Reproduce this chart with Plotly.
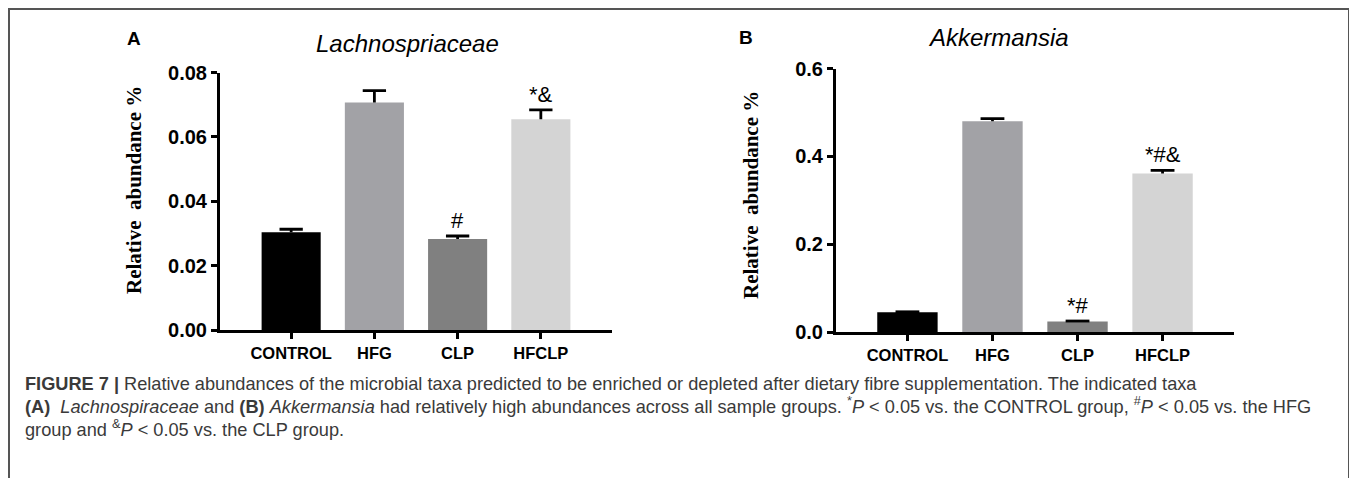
import plotly.graph_objects as go

W, H = 1357, 478
OFF = 8  # page body margin offset

categories = ["CONTROL", "HFG", "CLP", "HFCLP"]
bar_colors = ["#000000", "#a2a2a6", "#808080", "#d4d4d4"]

lach_values = [0.0304, 0.0707, 0.0283, 0.0655]
lach_errors = [0.0009, 0.0037, 0.0009, 0.0029]
lach_sig = ["", "", "#", "*&amp;"]

akk_values = [0.045, 0.480, 0.024, 0.361]
akk_errors = [0.001, 0.006, 0.001, 0.007]
akk_sig = ["", "", "*#", "*#&amp;"]

lach_ticks = [0.00, 0.02, 0.04, 0.06, 0.08]
lach_ticktext = ["0.00", "0.02", "0.04", "0.06", "0.08"]
akk_ticks = [0.0, 0.2, 0.4, 0.6]
akk_ticktext = ["0.0", "0.2", "0.4", "0.6"]

xpos = list(range(len(categories)))
CAP = 0.14  # half-width of error-bar caps, in category units


def px(x):
    return (x - OFF) / W


def py(y):
    return 1 - (y - OFF) / H


fig = go.Figure()

for vals, errs, xa, ya in [(lach_values, lach_errors, "x", "y"), (akk_values, akk_errors, "x2", "y2")]:
    fig.add_trace(go.Bar(
        x=xpos, y=vals, xaxis=xa, yaxis=ya,
        marker=dict(color=bar_colors, line=dict(width=0)),
        width=0.71, showlegend=False, hoverinfo="skip",
    ))
    ex, ey = [], []
    for i, v, e in zip(xpos, vals, errs):
        ex += [i, i, None, i - CAP, i + CAP, None]
        ey += [v, v + e, None, v + e, v + e, None]
    fig.add_trace(go.Scatter(
        x=ex, y=ey, xaxis=xa, yaxis=ya, mode="lines",
        line=dict(color="black", width=2.8), showlegend=False, hoverinfo="skip",
    ))

ytickfont = dict(family="Liberation Sans", size=20, color="black")
xtickfont = dict(family="Liberation Sans", size=16.5, color="black")
axis_common = dict(showline=True, linewidth=3, linecolor="black", ticks="outside",
                   ticklen=6, tickwidth=2.5, tickcolor="black", showgrid=False,
                   zeroline=False, automargin=False, fixedrange=True)
xcommon = dict(tickvals=xpos, ticktext=["<b>%s</b>" % c for c in categories],
               tickfont=xtickfont, **axis_common)

fig.update_layout(
    width=W, height=H,
    autosize=False,
    margin=dict(l=0, r=0, t=0, b=0, pad=0, autoexpand=False),
    paper_bgcolor="white", plot_bgcolor="white",
    xaxis=dict(domain=[px(220), px(612)], anchor="y", range=[-0.855, 3.855], **xcommon),
    yaxis=dict(domain=[py(330), py(72.5)], anchor="x", range=[0, 0.08],
               tickvals=lach_ticks, ticktext=["<b>%s</b>" % t for t in lach_ticktext],
               tickfont=ytickfont, **axis_common),
    xaxis2=dict(domain=[px(836), px(1234)], anchor="y2", range=[-0.84, 3.84], **xcommon),
    yaxis2=dict(domain=[py(332), py(68.5)], anchor="x2", range=[0, 0.6],
                tickvals=akk_ticks, ticktext=["<b>%s</b>" % t for t in akk_ticktext],
                tickfont=ytickfont, **axis_common),
)

ann = []
# significance labels
for vals, errs, sig, xr, yr in [(lach_values, lach_errors, lach_sig, "x", "y"),
                                (akk_values, akk_errors, akk_sig, "x2", "y2")]:
    for i, v, e, s in zip(xpos, vals, errs, sig):
        if s:
            ann.append(dict(x=i, y=v + e, xref=xr, yref=yr, text=s, showarrow=False,
                            xanchor="center", yanchor="bottom", yshift=1,
                            font=dict(family="Liberation Sans", size=22, color="black")))


def label(x, y, text, font, **kw):
    d = dict(x=px(x), y=py(y), xref="paper", yref="paper", text=text, showarrow=False,
             xanchor="center", yanchor="middle", font=font)
    d.update(kw)
    ann.append(d)


# panel titles
label(407, 43, "<i>Lachnospriaceae</i>", dict(family="Liberation Sans", size=24, color="black"))
label(998, 37, "<i>Akkermansia</i>", dict(family="Liberation Sans", size=24, color="black"))
label(134, 38, "<b>A</b>", dict(family="Liberation Sans", size=19, color="black"))
label(746, 37, "<b>B</b>", dict(family="Liberation Sans", size=19, color="black"))
# y axis titles
for xc, yc in [(134, 190), (751, 195)]:
    label(xc, yc, "<b>Relative  abundance %</b>",
          dict(family="Liberation Serif", size=21, color="black"), textangle=-90)

# caption
cap_font = dict(family="Liberation Sans", size=18.2, color="#3a3a3a")
cap_lines = [
    "<b>FIGURE 7 |</b> Relative abundances of the microbial taxa predicted to be enriched or depleted after dietary fibre supplementation. The indicated taxa",
    "<b>(A)</b>  <i>Lachnospiraceae</i> and <b>(B)</b> <i>Akkermansia</i> had relatively high abundances across all sample groups. <sup>*</sup><i>P</i> &lt; 0.05 vs. the CONTROL group, <sup>#</sup><i>P</i> &lt; 0.05 vs. the HFG",
    "group and <sup>&amp;</sup><i>P</i> &lt; 0.05 vs. the CLP group.",
]
for yc, t in zip([384, 405, 428], cap_lines):
    label(23, yc, t, cap_font, xanchor="left")

fig.update_layout(annotations=ann)

# border frame
frame = dict(color="#555555", width=2)
fig.add_shape(type="line", xref="paper", yref="paper", x0=px(8), x1=px(1349), y0=py(9), y1=py(9), line=frame)
fig.add_shape(type="line", xref="paper", yref="paper", x0=px(9), x1=px(9), y0=py(8), y1=0, line=frame)
fig.add_shape(type="line", xref="paper", yref="paper", x0=px(1349), x1=px(1349), y0=py(8), y1=0, line=frame)

fig.write_html("out.html", config={"displayModeBar": False})
